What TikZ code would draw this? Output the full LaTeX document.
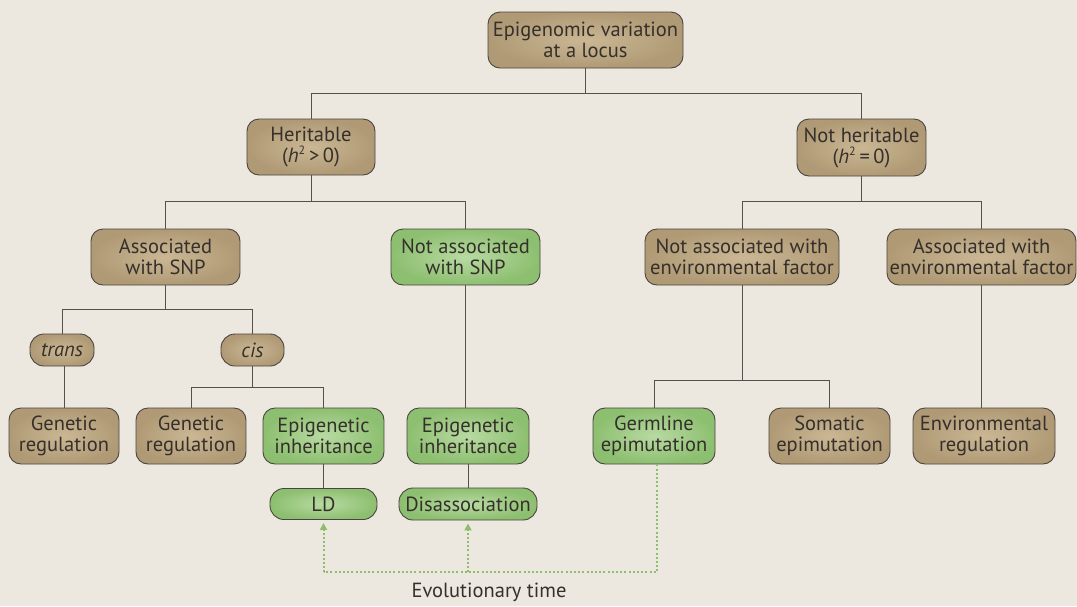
\documentclass[tikz,border=0pt]{standalone}
\usepackage{fontspec}
\setmainfont{PT Sans}
\usetikzlibrary{arrows.meta,calc}
\definecolor{bg}{HTML}{ECE8DF}
\definecolor{tanin}{HTML}{CBB794}
\definecolor{tanout}{HTML}{B09A76}
\definecolor{grin}{HTML}{B8DAA2}
\definecolor{grout}{HTML}{8DBF70}
\definecolor{edge}{HTML}{4A4540}
\definecolor{txt}{HTML}{35302B}
\definecolor{link}{HTML}{55504A}
\definecolor{evo}{HTML}{8CBE6C}
\tikzset{
  box/.style={draw=edge, line width=0.9pt, rounded corners=12pt, align=center,
    inner sep=0pt, text=txt, font=\fontsize{20.5}{21}\selectfont},
  tanbox/.style={box, inner color=tanin, outer color=tanout},
  grbox/.style={box, inner color=grin, outer color=grout},
  pill/.style={rounded corners=14pt},
  conn/.style={draw=link, line width=1pt},
  evoline/.style={draw=evo, line width=2pt, dash pattern=on 2pt off 2.2pt},
  evoarrow/.style={evoline, -{Triangle[length=7pt,width=7pt,fill=evo]}}
}
\newcommand{\hsq}{{\itshape h}\textsuperscript{\fontsize{12}{12}\selectfont 2}}
\begin{document}
\begin{tikzpicture}[x=1pt,y=-1pt]
\fill[bg] (0,0) rectangle (1077,606);
\useasboundingbox (0,0) rectangle (1077,606);

\node[tanbox, minimum width=195pt, minimum height=56pt] (top) at (585.5,40) {Epigenomic variation\\at a locus};
\node[tanbox, minimum width=128pt, minimum height=56pt] (her) at (311,147) {Heritable\\(\hsq\,>\,0)};
\node[tanbox, minimum width=129pt, minimum height=57pt] (nher) at (861.5,147.5) {Not heritable\\(\hsq\,=\,0)};

\node[tanbox, minimum width=149pt, minimum height=56pt] (asnp) at (165.5,257) {Associated\\with SNP};
\node[grbox, minimum width=149pt, minimum height=56pt] (nasnp) at (465.5,257) {Not associated\\with SNP};
\node[tanbox, minimum width=194pt, minimum height=56pt] (nenv) at (742,257) {Not associated with\\environmental factor};
\node[tanbox, minimum width=189pt, minimum height=56pt] (env) at (981.5,257) {Associated with\\environmental factor};

\node[tanbox, pill, minimum width=64pt, minimum height=32pt] (trans) at (62,350) {\itshape trans};
\node[tanbox, pill, minimum width=63pt, minimum height=32pt] (cis) at (252.5,350) {\itshape cis};

\node[tanbox, minimum width=110pt, minimum height=56pt] (gr1) at (64,436) {Genetic\\regulation};
\node[tanbox, minimum width=110pt, minimum height=56pt] (gr2) at (191,436) {Genetic\\regulation};
\node[grbox, minimum width=121pt, minimum height=56pt] (ei1) at (323.5,436) {Epigenetic\\inheritance};
\node[grbox, minimum width=122pt, minimum height=56pt] (ei2) at (468,436) {Epigenetic\\inheritance};
\node[grbox, minimum width=122pt, minimum height=56pt] (germ) at (654,436) {Germline\\epimutation};
\node[tanbox, minimum width=121pt, minimum height=56pt] (som) at (829.5,436) {Somatic\\epimutation};
\node[tanbox, minimum width=142pt, minimum height=56pt] (envreg) at (984,436) {Environmental\\regulation};

\node[grbox, pill, minimum width=107pt, minimum height=31pt] (ld) at (323.5,504) {LD};
\node[grbox, pill, minimum width=138pt, minimum height=32pt] (dis) at (468,504) {Disassociation};

\node[text=txt, font=\fontsize{20.5}{21}\selectfont] (evotxt) at (489,592) {Evolutionary time};

% connectors
\draw[conn] (top.south) -- ++(0,25) -| (her.north);
\draw[conn] (top.south) ++(0,25) -| (nher.north);
\draw[conn] (her.south) -- ++(0,26) -| (asnp.north);
\draw[conn] (her.south) ++(0,26) -| (nasnp.north);
\draw[conn] (nher.south) -- ++(0,25) -| (nenv.north);
\draw[conn] (nher.south) ++(0,25) -| (env.north);
\draw[conn] (asnp.south) -- ++(0,24) -| (trans.north);
\draw[conn] (asnp.south) ++(0,24) -| (cis.north);
\draw[conn] (gr1.north) -- (gr1.north |- trans.south);
\draw[conn] (cis.south) -- ++(0,21) -| (gr2.north);
\draw[conn] (cis.south) ++(0,21) -| (ei1.north);
\draw[conn] (nasnp.south) -- (nasnp.south |- ei2.north);
\draw[conn] (nenv.south) -- ++(0,95) -| (germ.north);
\draw[conn] (nenv.south) ++(0,95) -| (som.north);
\draw[conn] (env.south) -- (env.south |- envreg.north);
\draw[conn] (ei1.south) -- (ld.north);
\draw[conn] (ei2.south) -- (dis.north);

% evolutionary time
\path ([xshift=3pt]germ.south) ++(0,108) coordinate (gb);
\draw[evoline] ([xshift=3pt]germ.south) -- (gb) -- (gb -| ld.south);
\draw[evoarrow] (gb -| ld.south) -- ([yshift=-3pt]ld.south);
\draw[evoarrow] (gb -| dis.south) -- ([yshift=-3pt]dis.south);
\end{tikzpicture}
\end{document}
